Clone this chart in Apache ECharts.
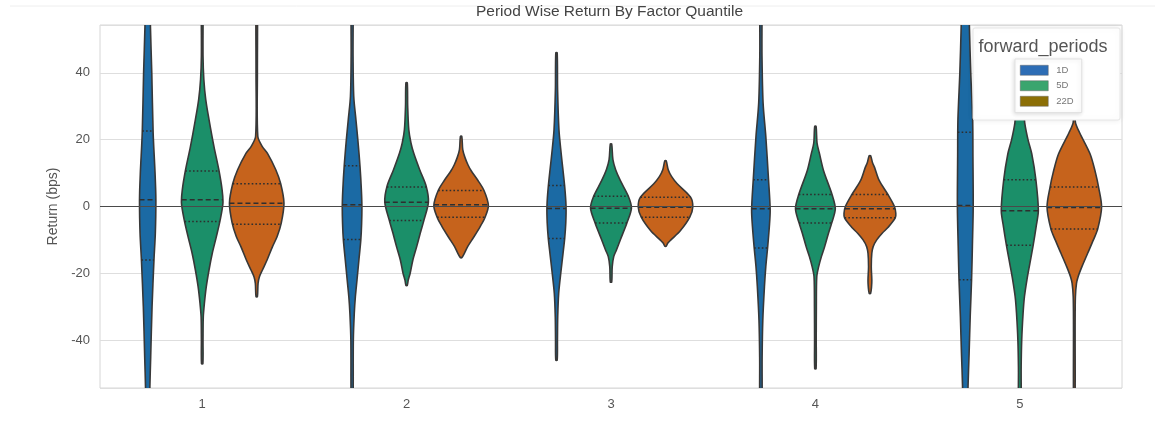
<!DOCTYPE html>
<html>
<head>
<meta charset="utf-8">
<script src="https://cdn.jsdelivr.net/npm/echarts@6/dist/echarts.min.js"></script>
<style>
  html, body { margin: 0; padding: 0; background: #ffffff; }
  #chart { width: 1155px; height: 421px; }
</style>
</head>
<body>
<div id="chart"></div>
<script>
// Factor quantiles on the x axis, forward return periods as hues
const quantiles = ['1', '2', '3', '4', '5'];
const periods = ['1D', '5D', '22D'];

// Violin outlines per quantile: [return (bps), half-width relative to the hue slot]
const shape1D = [
  [[62, 0.09], [54, 0.10], [40, 0.15], [22, 0.20], [10, 0.27], [2, 0.30], [-8, 0.28], [-16, 0.23], [-30, 0.16], [-45, 0.11], [-54, 0.08], [-62, 0.07]],
  [[62, 0.03], [45, 0.035], [33, 0.06], [26, 0.14], [20, 0.21], [12, 0.29], [5, 0.34], [0, 0.36], [-5, 0.35], [-10, 0.32], [-16, 0.25], [-22, 0.18], [-27, 0.12], [-32, 0.08], [-40, 0.045], [-62, 0.03]],
  [[46, 0.025], [35, 0.04], [23, 0.09], [16, 0.17], [6, 0.30], [0, 0.35], [-5, 0.34], [-9.6, 0.30], [-14, 0.24], [-19, 0.17], [-26, 0.08], [-33, 0.045], [-40, 0.035], [-46, 0.025]],
  [[62, 0.03], [45, 0.04], [31, 0.08], [21, 0.18], [8, 0.28], [-1, 0.34], [-6, 0.31], [-12, 0.25], [-18, 0.18], [-24, 0.13], [-34, 0.07], [-45, 0.045], [-62, 0.035]],
  [[62, 0.13], [54, 0.15], [40, 0.20], [26, 0.27], [15, 0.28], [0, 0.29], [-12, 0.26], [-22, 0.23], [-33, 0.18], [-44, 0.14], [-54, 0.10], [-62, 0.09]]
];
const shape5D = [
  [[62, 0.025], [45, 0.03], [38, 0.06], [32, 0.13], [26, 0.25], [18, 0.43], [11, 0.61], [5, 0.73], [1, 0.76], [-4, 0.66], [-9, 0.52], [-14, 0.37], [-19, 0.25], [-24, 0.15], [-29, 0.08], [-33, 0.04], [-40, 0.03], [-47, 0.025]],
  [[37, 0.025], [30, 0.04], [23, 0.08], [19, 0.16], [16, 0.26], [11, 0.48], [6, 0.72], [1.3, 0.80], [-4, 0.64], [-8, 0.50], [-12, 0.37], [-16, 0.23], [-20, 0.13], [-22, 0.06], [-23.6, 0.025]],
  [[18.7, 0.025], [14, 0.07], [11, 0.17], [7.8, 0.34], [3, 0.64], [-0.5, 0.75], [-5, 0.58], [-10, 0.34], [-13, 0.20], [-15, 0.10], [-18, 0.045], [-22.6, 0.025]],
  [[24, 0.025], [19, 0.06], [15.8, 0.15], [10.7, 0.30], [3.6, 0.61], [-0.7, 0.73], [-4.9, 0.60], [-8, 0.48], [-12, 0.34], [-15, 0.22], [-18, 0.12], [-21, 0.05], [-30, 0.035], [-40, 0.03], [-48.5, 0.025]],
  [[45, 0.04], [35, 0.10], [28, 0.16], [25, 0.18], [20, 0.30], [15.7, 0.44], [8, 0.59], [-1.2, 0.68], [-6, 0.60], [-11.6, 0.49], [-17, 0.37], [-22, 0.26], [-27, 0.17], [-32, 0.12], [-40, 0.07], [-48, 0.05], [-62, 0.04]]
];
const shape22D = [
  [[62, 0.025], [40, 0.025], [21, 0.04], [18, 0.20], [15.8, 0.40], [11, 0.70], [6.8, 0.88], [1, 1.0], [-5, 0.90], [-9, 0.75], [-12, 0.58], [-16, 0.38], [-19, 0.21], [-21, 0.10], [-23, 0.05], [-27, 0.025]],
  [[21, 0.025], [17, 0.06], [14.7, 0.14], [12.5, 0.25], [10.7, 0.37], [8, 0.60], [4.8, 0.84], [0.3, 1.0], [-3.2, 0.88], [-6, 0.70], [-9.2, 0.46], [-12, 0.24], [-14, 0.12], [-15.3, 0.025]],
  [[13.7, 0.025], [11, 0.10], [9, 0.22], [6.8, 0.43], [2.8, 0.92], [-0.2, 1.0], [-3.2, 0.89], [-7.2, 0.55], [-10, 0.20], [-11, 0.08], [-11.9, 0.025]],
  [[15.2, 0.025], [13, 0.10], [11.7, 0.17], [7.8, 0.34], [3.6, 0.66], [0, 0.90], [-2, 0.95], [-3.4, 0.93], [-6.2, 0.67], [-8, 0.45], [-10, 0.25], [-12, 0.12], [-14, 0.07], [-18, 0.05], [-22, 0.07], [-24, 0.06], [-26, 0.025]],
  [[45, 0.025], [30, 0.03], [25.2, 0.04], [22, 0.20], [15.7, 0.58], [10, 0.78], [5.8, 0.89], [-0.2, 1.0], [-6.7, 0.86], [-10, 0.70], [-14, 0.49], [-18, 0.28], [-21, 0.14], [-23, 0.08], [-27, 0.04], [-35, 0.03], [-62, 0.025]]
];

// Inner quartile lines per quantile: [lower quartile, median, upper quartile]
const quartiles1D = [[-16, 2, 22.6], [-9.9, 0.5, 12.2], [-9.6, -0.6, 6.3], [-12.4, -0.7, 8.0], [-21.9, 0.3, 22.2]];
const quartiles5D = [[-4.5, 2, 10.6], [-4.2, 1.3, 5.8], [-4.9, -0.5, 3.1], [-4.9, -0.7, 3.6], [-11.6, -1.3, 8.0]];
const quartiles22D = [[-5.3, 1, 6.8], [-3.2, 0.5, 4.8], [-3.2, -0.2, 2.8], [-3.4, -0.7, 3.6], [-6.7, -0.3, 5.8]];

const shapes = [shape1D, shape5D, shape22D];
const quartiles = [quartiles1D, quartiles5D, quartiles22D];
const violinColors = ['#1b6aa4', '#1b8f69', '#c6631c'];
const legendColors = ['#2d6db5', '#3aa56e', '#8c6f06'];
const FONT = '"Liberation Sans", Arial, sans-serif';

// half-width of an outline at a given return, read along the outline points
function widthAt(profile, v) {
  for (let i = 0; i < profile.length - 1; i++) {
    const a = profile[i], b = profile[i + 1];
    if (v <= a[0] && v >= b[0]) {
      const t = (a[0] - v) / (a[0] - b[0]);
      return a[1] + (b[1] - a[1]) * t;
    }
  }
  return 0;
}

function violinRenderer(pIdx) {
  return function (params, api) {
    const c = api.value(0);
    const band = api.size([1, 0])[0];
    const slot = band * 0.8 / 3;
    const half = slot / 2;
    const cx = api.coord([c, 0])[0] + (pIdx - 1) * slot;
    const profile = shapes[pIdx][c];
    const right = profile.map(p => [cx + p[1] * half, api.coord([c, p[0]])[1]]);
    const left = profile.slice().reverse().map(p => [cx - p[1] * half, api.coord([c, p[0]])[1]]);
    const children = [{
      type: 'polygon',
      shape: { points: right.concat(left), smooth: 0.3 },
      style: { fill: violinColors[pIdx], stroke: '#383838', lineWidth: 1.6 }
    }];
    quartiles[pIdx][c].forEach((q, k) => {
      const w = widthAt(profile, q) * half;
      const y = api.coord([c, q])[1];
      children.push({
        type: 'line',
        shape: { x1: cx - w, y1: y, x2: cx + w, y2: y },
        style: { stroke: '#2e2e2e', lineWidth: 1.5, lineDash: k === 1 ? [5, 3] : [1.6, 2.2] }
      });
    });
    return { type: 'group', children: children };
  };
}

const chart = echarts.init(document.getElementById('chart'), null, { renderer: 'canvas' });

const series = periods.map((p, i) => ({
  name: p,
  type: 'custom',
  clip: true,
  z: 2,
  itemStyle: { color: violinColors[i] },
  encode: { x: 0, y: 1 },
  data: quantiles.map((q, c) => [c, 0]),
  renderItem: violinRenderer(i)
}));

// zero reference line drawn over the violins
series.push({
  name: 'zero',
  type: 'line',
  data: [],
  z: 5,
  markLine: {
    silent: true,
    symbol: 'none',
    label: { show: false },
    lineStyle: { color: '#4a4a4a', width: 1, type: 'solid' },
    data: [{ yAxis: 0 }]
  }
});

chart.setOption({
  animation: false,
  backgroundColor: '#ffffff',
  title: {
    text: 'Period Wise Return By Factor Quantile',
    left: 476,
    top: 4,
    padding: 0,
    textStyle: { fontFamily: FONT, fontSize: 15.5, fontWeight: 'normal', color: '#444444' }
  },
  grid: {
    left: 100, right: 33, top: 25, bottom: 33,
    show: true, borderColor: '#d6d6d6', borderWidth: 1, backgroundColor: '#ffffff'
  },
  xAxis: {
    type: 'category',
    data: quantiles,
    axisLine: { show: false },
    axisTick: { show: false },
    splitLine: { show: false },
    axisLabel: { color: '#555555', fontSize: 13, fontFamily: FONT, margin: 10 }
  },
  yAxis: {
    type: 'value',
    min: -54.3,
    max: 54.3,
    splitNumber: 5,
    name: 'Return (bps)',
    nameLocation: 'middle',
    nameGap: 40,
    nameTextStyle: { color: '#555555', fontSize: 14, fontFamily: FONT },
    axisLine: { show: false },
    axisTick: { show: false },
    splitLine: { lineStyle: { color: '#dedede', width: 1 } },
    axisLabel: {
      color: '#555555', fontSize: 13, fontFamily: FONT, margin: 10,
      showMinLabel: false, showMaxLabel: false,
      formatter: v => (Math.abs(v % 20) < 1e-6 ? String(v) : '')
    }
  },
  legend: {
    orient: 'vertical',
    left: 1015,
    top: 59,
    z: 10,
    selectedMode: false,
    itemWidth: 28,
    itemHeight: 10,
    itemGap: 5,
    padding: [6, 8, 6, 5],
    backgroundColor: '#ffffff',
    borderColor: '#e2e2e2',
    borderWidth: 1,
    shadowBlur: 4,
    shadowColor: 'rgba(0,0,0,0.12)',
    shadowOffsetX: -1,
    shadowOffsetY: 1,
    textStyle: { fontSize: 9.5, color: '#777777', fontFamily: FONT, padding: [0, 0, 0, 3] },
    data: periods.map((p, i) => ({
      name: p,
      icon: 'rect',
      itemStyle: { color: legendColors[i], borderColor: '#666666', borderWidth: 0.5 }
    }))
  },
  graphic: [
    {
      type: 'line', silent: true, z: 1,
      shape: { x1: 10, y1: 6, x2: 1155, y2: 6 },
      style: { stroke: '#eeeeee', lineWidth: 1 }
    },
    {
      type: 'rect', silent: true, z: 8,
      shape: { x: 973, y: 28, width: 147, height: 92, r: 2 },
      style: { fill: '#ffffff', stroke: '#e6e6e6', lineWidth: 1, shadowBlur: 6, shadowColor: 'rgba(0,0,0,0.08)' }
    },
    {
      type: 'text', silent: true, z: 9,
      x: 1043, y: 47,
      style: { text: 'forward_periods', font: '18px "Liberation Sans", Arial, sans-serif', fill: '#555555', align: 'center', verticalAlign: 'middle' }
    }
  ],
  series: series
});
</script>
</body>
</html>
